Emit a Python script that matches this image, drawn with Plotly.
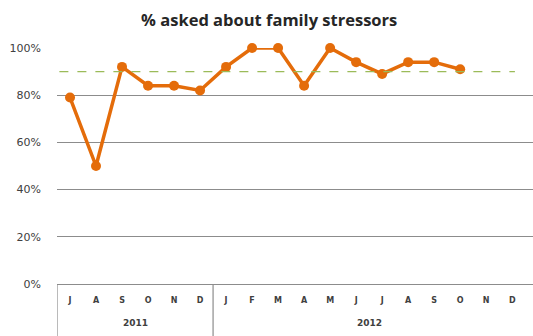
import plotly.graph_objects as go

months = ["J", "A", "S", "O", "N", "D", "J", "F", "M", "A", "M", "J", "J", "A", "S", "O", "N", "D"]
years = ["2011", "2012"]
year_month_counts = [6, 12]
values = [79, 50, 92, 84, 84, 82, 92, 100, 100, 84, 100, 94, 89, 94, 94, 91, None, None]
target = 90
yticks = [0, 20, 40, 60, 80, 100]
ytick_labels = ["0%", "20%", "40%", "60%", "80%", "100%"]

xs = list(range(len(months)))
fig = go.Figure()
fig.add_trace(go.Scatter(
    x=xs, y=values, mode="lines+markers",
    line=dict(color="#E46C0A", width=3.5),
    marker=dict(color="#E46C0A", size=10),
    cliponaxis=False, showlegend=False, connectgaps=False,
))

# target line
fig.add_shape(type="line", xref="paper", yref="y", x0=0.005, x1=0.962, y0=target, y1=target,
              line=dict(color="#9BBB59", width=1.2, dash="dash"))

# year group dividers and labels
start = 0
dividers = [-0.5]
for yr, n in zip(years, year_month_counts):
    mid = start + (n - 1) / 2
    fig.add_annotation(x=mid, y=-0.165, xref="x", yref="paper", yanchor="middle",
                       text=yr, showarrow=False,
                       font=dict(size=9, color="#404040", family="DejaVu Sans", weight="bold"))
    start += n
    dividers.append(start - 0.5)
for d in dividers[:-1]:
    fig.add_shape(type="line", xref="x", yref="paper", x0=d, x1=d, y0=0, y1=-0.23,
                  line=dict(color="#8C8C8C", width=1.2))

fig.update_layout(
    width=533, height=336,
    margin=dict(l=57, r=0, t=48, b=52),
    paper_bgcolor="white", plot_bgcolor="white",
    title=dict(text="<b>% asked about family stressors</b>", x=0.505, xanchor="center",
               y=0.94, yanchor="middle",
               font=dict(size=16.5, color="#262626", family="Open Sans")),
    xaxis=dict(range=[-0.5, 17.8], tickvals=xs, ticktext=months, showgrid=False,
               zeroline=False, showline=False, ticks="", ticklabelstandoff=10,
               tickfont=dict(size=8, color="#404040", family="DejaVu Sans", weight="bold")),
    yaxis=dict(range=[0, 100], tickvals=yticks, ticktext=ytick_labels,
               showgrid=True, gridcolor="#8C8C8C", gridwidth=1.2,
               zeroline=True, zerolinecolor="#8C8C8C", zerolinewidth=1.2,
               showline=False, ticks="", ticklabelstandoff=15,
               tickfont=dict(size=11, color="#404040", family="DejaVu Sans")),
)

fig.write_html("out.html", config={"displayModeBar": False},
               post_script="document.body.style.margin='0';")
